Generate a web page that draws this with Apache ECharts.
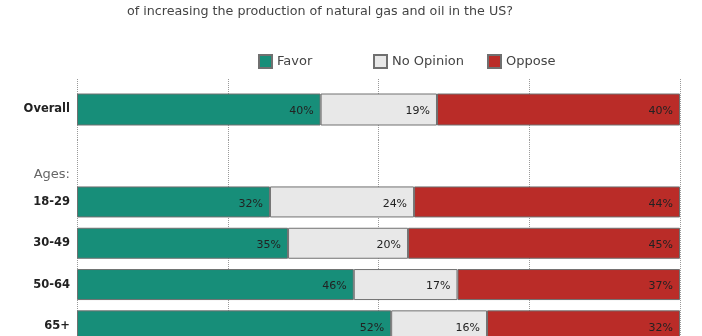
<!DOCTYPE html>
<html>
<head>
<meta charset="utf-8">
<script src="https://cdn.jsdelivr.net/npm/echarts@6/dist/echarts.min.js"></script>
<style>
html,body{margin:0;padding:0;background:#fff;}
#chart{width:702px;height:336px;}
</style>
</head>
<body>
<div id="chart"></div>
<script>
// Data (percent of respondents)
const overallCategories = ['Overall'];
const ageCategories = ['Ages:', '18-29', '30-49', '50-64', '65+'];
const favorOverall = [40.4];
const noOpinionOverall = [19.3];
const opposeOverall = [40.3];
const favorAges = [null, 32.0, 35.0, 45.9, 52.1];
const noOpinionAges = [null, 23.9, 19.9, 17.2, 15.9];
const opposeAges = [null, 44.1, 45.1, 36.9, 32.0];
const seriesNames = ['Favor', 'No Opinion', 'Oppose'];
const titleText = 'of increasing the production of natural gas and oil in the US?';

const colors = {'Favor': '#178E79', 'No Opinion': '#E8E8E8', 'Oppose': '#BA2C28'};
const FONT = 'DejaVu Sans';

const chart = echarts.init(document.getElementById('chart'), null, {renderer: 'canvas'});

function mkLabel() {
  return {
    show: true,
    position: 'insideRight',
    distance: 7,
    offset: [0, 2],
    color: '#222',
    fontFamily: FONT,
    fontSize: 11,
    formatter: p => (p.value == null ? '' : Math.round(p.value) + '%')
  };
}

function mkSeries(name, data, gi, barWidth) {
  return {
    name: name,
    type: 'bar',
    stack: 'g' + gi,
    xAxisIndex: gi,
    yAxisIndex: gi,
    data: data,
    barWidth: barWidth,
    itemStyle: {color: colors[name], borderColor: '#707070', borderWidth: 1},
    label: mkLabel(),
    emphasis: {disabled: true},
    animation: false
  };
}

function xAxisDef(gi) {
  return {
    type: 'value', gridIndex: gi, min: 0, max: 100, interval: 25,
    axisLabel: {show: false}, axisTick: {show: false}, axisLine: {show: false},
    splitLine: {show: true, lineStyle: {type: 'dotted', color: '#999', width: 1}}
  };
}

function yAxisDef(gi, cats) {
  return {
    type: 'category', gridIndex: gi, data: cats, inverse: true,
    axisLine: {show: false}, axisTick: {show: false},
    axisLabel: {
      margin: 7,
      fontFamily: FONT, fontSize: 11.5, fontWeight: 'bold', color: '#222',
      formatter: v => (v === 'Ages:' ? '{ages|' + v + '}' : v),
      rich: {ages: {fontFamily: FONT, fontSize: 13, fontWeight: 'normal', color: '#666', padding: [27, 0, 0, 0]}}
    }
  };
}

const legendLefts = [258, 373, 487];
const legends = seriesNames.map((n, i) => ({
  data: [n], left: legendLefts[i], top: 54, padding: 0,
  itemWidth: 13, itemHeight: 13, itemGap: 0, icon: 'rect',
  textStyle: {fontFamily: FONT, fontSize: 13, color: '#444'},
  selectedMode: false
}));

const option = {
  backgroundColor: '#fff',
  animation: false,
  title: {
    text: titleText, left: 127, top: 5, padding: 0,
    textStyle: {fontFamily: FONT, fontSize: 12.7, fontWeight: 'normal', color: '#444'}
  },
  legend: legends,
  grid: [
    {left: 77, right: 22, top: 79, height: 61, outerBoundsMode: 'none', containLabel: false},
    {left: 77, right: 22, top: 140, height: 206.5, outerBoundsMode: 'none', containLabel: false}
  ],
  xAxis: [xAxisDef(0), xAxisDef(1)],
  yAxis: [yAxisDef(0, overallCategories), yAxisDef(1, ageCategories)],
  series: [
    mkSeries('Favor', favorOverall, 0, 32),
    mkSeries('No Opinion', noOpinionOverall, 0, 32),
    mkSeries('Oppose', opposeOverall, 0, 32),
    mkSeries('Favor', favorAges, 1, 31),
    mkSeries('No Opinion', noOpinionAges, 1, 31),
    mkSeries('Oppose', opposeAges, 1, 31)
  ]
};
chart.setOption(option);
</script>
</body>
</html>
